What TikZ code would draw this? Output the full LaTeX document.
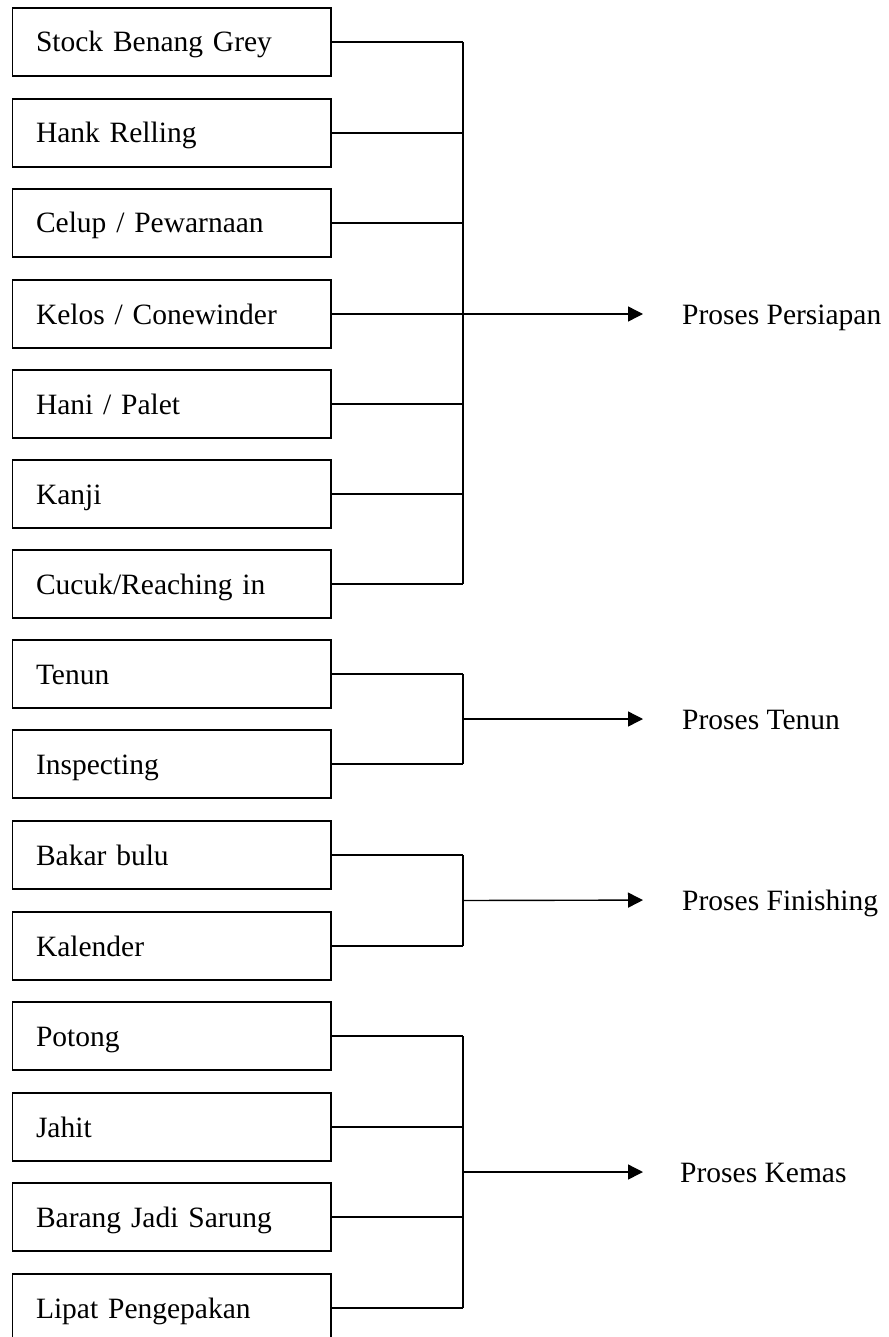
\documentclass[tikz,border=0pt]{standalone}
\usepackage{fontspec}
\setmainfont{Liberation Serif}
\usetikzlibrary{arrows.meta,calc}
\tikzset{
  stepbox/.style={draw=black, line width=1.4pt, rectangle, minimum width=318.5pt, minimum height=68pt,
    text width=271.5pt, inner xsep=23.5pt, inner ysep=0pt, align=left,
    text height=20pt, text depth=0pt, font=\fontsize{29.5}{32}\selectfont},
  proclabel/.style={anchor=west, inner xsep=0pt, inner ysep=0pt, text height=20pt, text depth=0pt,
    font=\fontsize{29.5}{32}\selectfont},
  wire/.style={draw=black, line width=1.4pt},
  flow/.style={wire, -{Triangle[length=15pt, width=15pt]}, shorten >=39pt}
}
\begin{document}
\begin{tikzpicture}[x=1pt,y=-1pt]
\useasboundingbox (0,0) rectangle (888,1337);
\clip (0,0) rectangle (888,1337);
\fill[white] (0,0) rectangle (888,1337);
\coordinate (bx) at (463,0);
% boxes
\node[stepbox] (b1)  at (171.75,42)   {Stock Benang Grey};
\node[stepbox] (b2)  at (171.75,133)  {Hank Relling};
\node[stepbox] (b3)  at (171.75,223)  {Celup / Pewarnaan};
\node[stepbox] (b4)  at (171.75,314)  {Kelos / Conewinder};
\node[stepbox] (b5)  at (171.75,404)  {Hani / Palet};
\node[stepbox] (b6)  at (171.75,494)  {Kanji};
\node[stepbox] (b7)  at (171.75,584)  {Cucuk/Reaching in};
\node[stepbox] (b8)  at (171.75,674)  {Tenun};
\node[stepbox] (b9)  at (171.75,764)  {Inspecting};
\node[stepbox] (b10) at (171.75,855)  {Bakar bulu};
\node[stepbox] (b11) at (171.75,946)  {Kalender};
\node[stepbox] (b12) at (171.75,1036) {Potong};
\node[stepbox] (b13) at (171.75,1127) {Jahit};
\node[stepbox] (b14) at (171.75,1217) {Barang Jadi Sarung};
\node[stepbox] (b15) at (171.75,1308) {Lipat Pengepakan};
% labels
\node[proclabel] (l1) at (682,314)  {Proses Persiapan};
\node[proclabel] (l2) at (682,719)  {Proses Tenun};
\node[proclabel] (l3) at (682,900)  {Proses Finishing};
\node[proclabel] (l4) at (680,1172) {Proses Kemas};
% group 1
\foreach \i in {1,...,7} { \draw[wire] (b\i.east) -- (b\i.east -| bx); }
\draw[wire] (b1.east -| bx) -- (b7.east -| bx);
\draw[flow] (b4.east -| bx) -- (l1.west);
% group 2
\foreach \i in {8,9} { \draw[wire] (b\i.east) -- (b\i.east -| bx); }
\draw[wire] (b8.east -| bx) -- (b9.east -| bx);
\coordinate (j2) at ($(b8.east -| bx)!0.5!(b9.east -| bx)$);
\draw[flow] (j2) -- (l2.west);
% group 3
\foreach \i in {10,11} { \draw[wire] (b\i.east) -- (b\i.east -| bx); }
\draw[wire] (b10.east -| bx) -- (b11.east -| bx);
\coordinate (j3) at ($(b10.east -| bx)!0.5!(b11.east -| bx)$);
\draw[flow] (j3) -- (l3.west);
% group 4
\foreach \i in {12,...,15} { \draw[wire] (b\i.east) -- (b\i.east -| bx); }
\draw[wire] (b12.east -| bx) -- (b15.east -| bx);
\coordinate (j4) at ($(b12.east -| bx)!0.5!(b15.east -| bx)$);
\draw[flow, shorten >=37pt] (j4) -- (l4.west);
\end{tikzpicture}
\end{document}
